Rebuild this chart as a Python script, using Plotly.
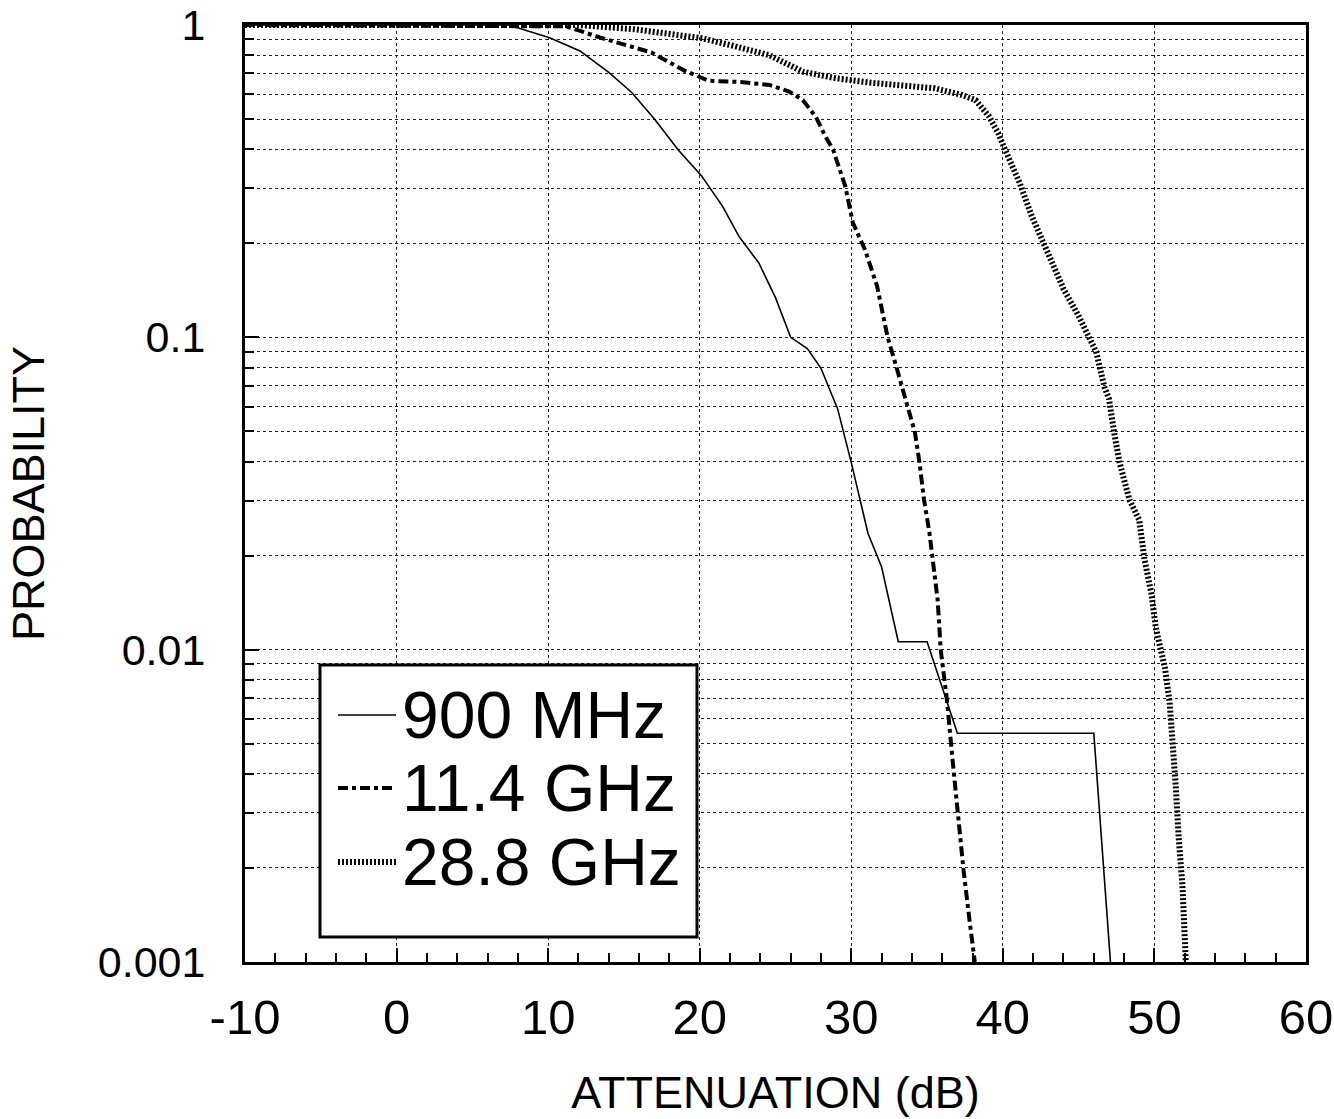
import plotly.graph_objects as go

# ---- data ----
x_900mhz = [-10, 7.4, 10.1, 12.1, 14.0, 15.5, 17.0, 18.6, 20.1, 21.5, 22.6, 23.9, 25.0, 26.0,
            27.1, 28.0, 29.1, 30.0, 31.1, 32.0, 33.1, 35.0, 37.0, 46.0, 47.1]
p_900mhz = [1, 1, 0.91, 0.826, 0.705, 0.609, 0.501, 0.397, 0.33, 0.263, 0.21, 0.173, 0.134, 0.1,
            0.092, 0.0796, 0.059, 0.0397, 0.0236, 0.0184, 0.0106, 0.0106, 0.0054, 0.0054, 0.001]

x_114ghz = [-10, 11.2, 13.45, 16.8, 19.0, 20.6, 22.6, 24.6, 25.9, 26.8, 27.65, 28.3, 28.8, 29.6,
            30.1, 30.9, 31.7, 32.4, 33.0, 33.7, 34.2, 34.5, 34.8, 35.16, 35.4, 35.7, 35.9, 36.3,
            36.74, 37.07, 37.4, 37.8, 38.15]
p_114ghz = [1, 0.99, 0.911, 0.817, 0.714, 0.663, 0.657, 0.643, 0.612, 0.575, 0.509, 0.439, 0.399,
            0.305, 0.233, 0.191, 0.146, 0.1, 0.0796, 0.0605, 0.0496, 0.0397, 0.0302, 0.0236,
            0.0184, 0.0144, 0.01, 0.00698, 0.00415, 0.00286, 0.00198, 0.00136, 0.001]

x_288ghz = [-10, 12, 15.7, 20.2, 22.4, 24.6, 26.8, 29.0, 31.2, 33.4, 35.5, 37.3, 38.2, 39.1, 39.7,
            40.05, 41.1, 41.9, 42.9, 44.0, 45.0, 45.7, 46.15, 46.7, 47.0, 47.36, 47.7, 48.35, 49.0,
            49.34, 49.8, 50.1, 50.4, 50.7, 51.0, 51.2, 51.4, 51.6, 51.85, 52.07]
p_288ghz = [1, 1, 0.969, 0.906, 0.853, 0.80, 0.709, 0.675, 0.654, 0.642, 0.627, 0.597, 0.575,
            0.509, 0.45, 0.409, 0.313, 0.245, 0.191, 0.143, 0.117, 0.1, 0.09, 0.0694, 0.0636,
            0.049, 0.0397, 0.0302, 0.026, 0.0195, 0.0151, 0.0117, 0.01, 0.0087, 0.0068, 0.0053,
            0.0037, 0.0025, 0.00175, 0.001]

series_names = ["900 MHz", "11.4 GHz", "28.8 GHz"]

x_tickvals = [-10, 0, 10, 20, 30, 40, 50, 60]
x_ticktext = ["-10", "0", "10", "20", "30", "40", "50", "60"]
y_tickvals = [0.001, 0.01, 0.1, 1]
y_ticktext = ["0.001", "0.01", "0.1", "1"]
y_minorvals = [k * 10.0 ** e for e in (-3, -2, -1) for k in range(2, 10)]

FONT = "Arial, Liberation Sans, Helvetica, sans-serif"
NARROW = "Liberation Sans Narrow, Arial Narrow, Liberation Sans, Arial, sans-serif"

line_styles = [
    dict(color="black", width=1.6),
    dict(color="black", width=4, dash="10px,4px,4px,4px"),
    dict(color="black", width=6, dash="2px,2px"),
]

fig = go.Figure()
for xs, ys, name, ls in zip([x_900mhz, x_114ghz, x_288ghz],
                            [p_900mhz, p_114ghz, p_288ghz],
                            series_names, line_styles):
    fig.add_trace(go.Scatter(x=xs, y=ys, mode="lines", name=name, line=ls,
                             showlegend=False))

# ---- boxed legend drawn in paper coordinates ----
W, H = 1334, 1119
L, R, T, B = 245, 28, 25, 157
pw, ph = W - L - R, H - T - B


def px(xp):
    return (xp - L) / pw


def py(yp):
    return (H - B - yp) / ph


fig.add_shape(type="rect", xref="paper", yref="paper",
              x0=px(320), x1=px(697), y0=py(937), y1=py(665),
              line=dict(color="black", width=3), fillcolor="white", layer="above")
legend_rows = [715, 788, 862]
for name, ls, yrow in zip(series_names, line_styles, legend_rows):
    fig.add_shape(type="line", xref="paper", yref="paper",
                  x0=px(338), x1=px(396), y0=py(yrow), y1=py(yrow),
                  line=ls, layer="above")
    fig.add_annotation(x=px(400), y=py(yrow), xref="paper", yref="paper",
                       text=name, showarrow=False, xanchor="left", yanchor="middle",
                       font=dict(size=66, family=FONT, color="black"))

fig.update_layout(
    width=W, height=H,
    margin=dict(l=L, r=R, t=T, b=B),
    paper_bgcolor="white", plot_bgcolor="white",
    font=dict(family=FONT, color="black", size=42),
    showlegend=False,
)

fig.update_xaxes(
    type="linear", range=[-10, 60], tickmode="array", tickvals=x_tickvals, ticktext=x_ticktext,
    ticks="inside", ticklen=14, tickwidth=2, tickcolor="black",
    showline=True, linewidth=3, linecolor="black", mirror=True,
    showgrid=True, gridcolor="#222", gridwidth=1, griddash="dot",
    zeroline=False, automargin=False,
    minor=dict(dtick=2, ticks="inside", ticklen=9, tickwidth=2, tickcolor="black", showgrid=False),
    tickfont=dict(size=49, family=NARROW), ticklabelstandoff=10,
    title=dict(text="ATTENUATION (dB)", font=dict(size=45), standoff=34),
)

fig.update_yaxes(
    type="log", range=[-3, 0], tickmode="array", tickvals=y_tickvals, ticktext=y_ticktext,
    ticks="inside", ticklen=14, tickwidth=2, tickcolor="black",
    showline=True, linewidth=3, linecolor="black", mirror=True,
    showgrid=True, gridcolor="#222", gridwidth=1, griddash="dot",
    zeroline=False, automargin=False,
    minor=dict(tickmode="array", tickvals=y_minorvals, ticks="inside", ticklen=9, tickwidth=2,
               tickcolor="black", showgrid=True, gridcolor="#222", gridwidth=1, griddash="dot"),
    tickfont=dict(size=43), ticklabelstandoff=28,
    title=dict(text="PROBABILITY", font=dict(size=45), standoff=40),
)

fig.write_html("out.html")
